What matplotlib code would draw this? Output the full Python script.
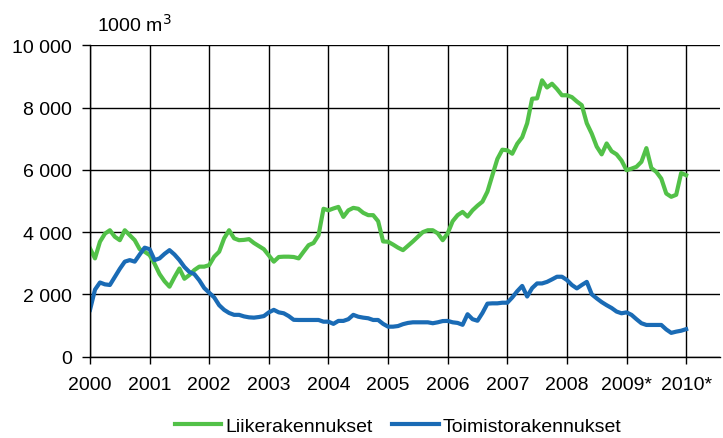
import numpy as np
import matplotlib
matplotlib.use('Agg')
import matplotlib.pyplot as plt
from matplotlib.ticker import FuncFormatter

plt.rcParams['font.family'] = ['Liberation Sans', 'DejaVu Sans']

# Kuukausittaiset arvot 1/2000 - 1/2010 (1000 m3)
liike = [3475, 3155, 3690, 3950, 4060, 3850, 3740, 4060, 3900, 3740, 3450, 3370,
         3260, 2980, 2650, 2420, 2245, 2550, 2830, 2500, 2620, 2780, 2890, 2890,
         2940, 3210, 3370, 3800, 4060, 3800, 3740, 3750, 3775, 3650, 3550, 3450,
         3250, 3050, 3200, 3210, 3210, 3200, 3155, 3370, 3580, 3650, 3900, 4750,
         4700, 4760, 4810, 4490, 4700, 4780, 4750, 4620, 4545, 4545, 4350, 3700,
         3690, 3600, 3500, 3420, 3560, 3700, 3850, 4000, 4060, 4060, 3960, 3740,
         3960, 4350, 4545, 4650, 4500, 4700, 4850, 4980, 5300, 5830, 6350, 6650,
         6630, 6520, 6840, 7050, 7500, 8290, 8300, 8880, 8650, 8770, 8600, 8400,
         8400, 8340, 8200, 8080, 7500, 7165, 6750, 6500, 6850, 6600, 6500, 6300,
         5990, 6040, 6100, 6260, 6700, 6060, 5935, 5720, 5240, 5135, 5200, 5900,
         5830]
toimisto = [1500, 2150, 2380, 2320, 2300, 2560, 2820, 3050, 3100, 3050, 3280, 3500,
            3450, 3100, 3155, 3300, 3420, 3280, 3100, 2880, 2720, 2650, 2450, 2200,
            2050, 1900, 1650, 1500, 1400, 1340, 1340, 1290, 1260, 1250, 1270, 1300,
            1420, 1500, 1420, 1390, 1300, 1180, 1175, 1175, 1175, 1175, 1175, 1120,
            1120, 1050, 1145, 1145, 1200, 1340, 1280, 1250, 1230, 1175, 1175, 1050,
            960, 960, 980, 1040, 1080, 1100, 1100, 1100, 1100, 1070, 1100, 1140,
            1145, 1100, 1080, 1020, 1360, 1200, 1150, 1400, 1700, 1710, 1710, 1730,
            1730, 1900, 2100, 2270, 1930, 2200, 2350, 2350, 2400, 2480, 2565, 2565,
            2460, 2300, 2190, 2300, 2400, 2000, 1870, 1750, 1650, 1560, 1445, 1390,
            1420, 1340, 1200, 1070, 1015, 1015, 1015, 1015, 870, 760, 800, 830,
            880]
vuodet = list(range(2000, 2011))
vuosi_tekstit = ['2000', '2001', '2002', '2003', '2004', '2005', '2006',
                 '2007', '2008', '2009*', '2010*']

aika = 2000 + np.arange(len(liike)) / 12

fig = plt.figure(figsize=(7.23, 4.39), dpi=100)
ax = fig.add_axes([0.1245, 0.1856, 0.8715, 0.7085])

ax.plot(aika, liike, color='#52c148', lw=3, label='Liikerakennukset')
ax.plot(aika, toimisto, color='#1a6bb5', lw=3, label='Toimistorakennukset')

ax.set_xlim(2000, 2010.57)
ax.set_ylim(0, 10000)
ax.set_xticks(vuodet)
ax.set_xticklabels(vuosi_tekstit)
ax.set_yticks(range(0, 10001, 2000))
ax.yaxis.set_major_formatter(FuncFormatter(lambda v, p: f'{int(v):,}'.replace(',', ' ')))

# Ruudukko
ax.grid(True, color='black', lw=1.0)
ax.set_axisbelow(True)
for s in ['top', 'right']:
    ax.spines[s].set_visible(False)
for s in ['left', 'bottom']:
    ax.spines[s].set_color('black')
    ax.spines[s].set_linewidth(1.0)

ax.tick_params(axis='y', length=6, width=1, pad=7, labelsize=14)
ax.tick_params(axis='x', length=5, width=1, pad=9, labelsize=14)

fig.text(97 / 723, 1 - 25 / 439, '1000 m$^3$', fontsize=14, va='center', ha='left')

fig.legend(loc='center', bbox_to_anchor=(398 / 723, 1 - 427 / 439), ncol=2,
           frameon=False, fontsize=14, handlelength=2.4, handletextpad=0.2,
           columnspacing=1.0)

plt.savefig('out.png', dpi=100)
